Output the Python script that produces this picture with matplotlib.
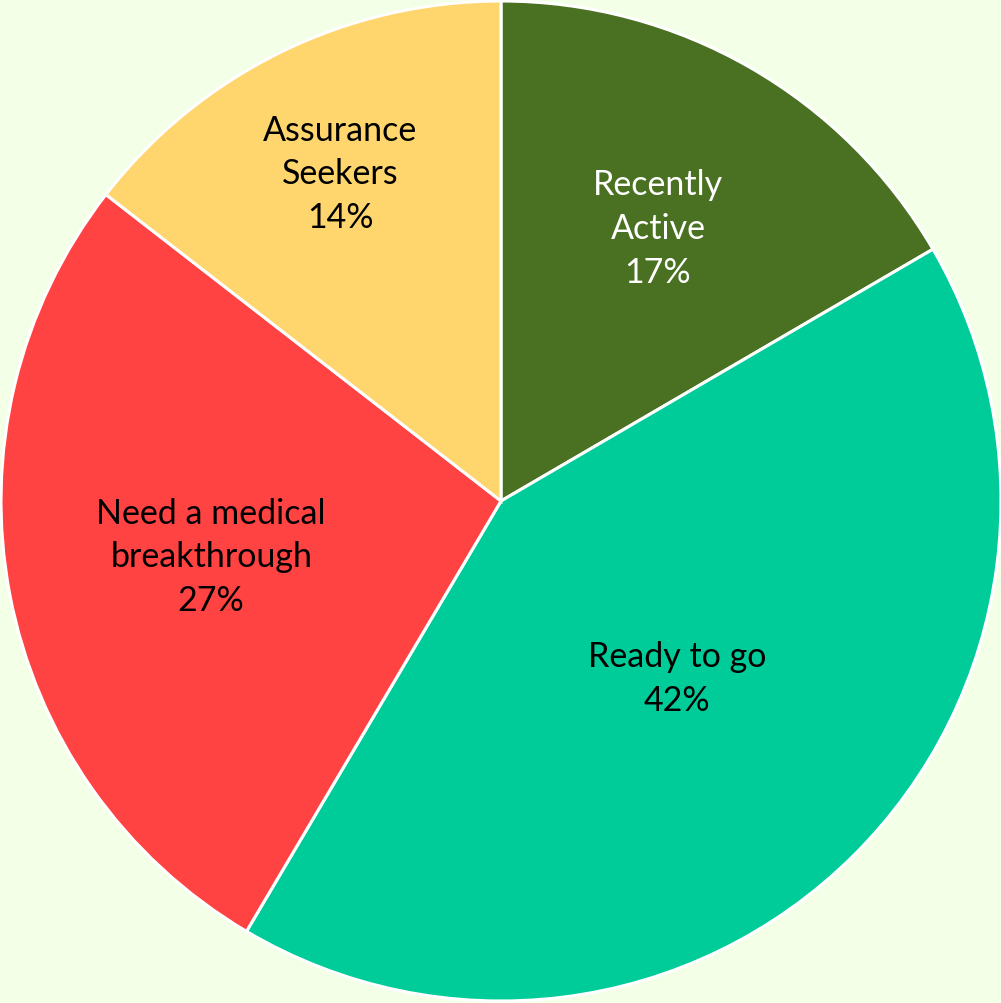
import numpy as np
import matplotlib
matplotlib.use('Agg')
import matplotlib.pyplot as plt

plt.rcParams['font.family'] = ['Lato', 'DejaVu Sans']

# data
labels = ['Recently\nActive', 'Ready to go', 'Need a medical\nbreakthrough', 'Assurance\nSeekers']
values = [16.6, 41.9, 27.0, 14.5]
pct_text = ['17%', '42%', '27%', '14%']

colors = ['#4A7021', '#00CC99', '#FF4343', '#FFD56E']
text_colors = ['white', 'black', 'black', 'black']
label_dist = [0.63, 0.50, 0.59, 0.73]

bg = '#F3FFE6'
fig = plt.figure(figsize=(10.01, 10.04), dpi=100, facecolor=bg)
ax = fig.add_axes([0, 0, 1, 1])
ax.set_facecolor(bg)

wedges, _ = ax.pie(values, colors=colors, startangle=90, counterclock=False,
                   radius=1.0, wedgeprops=dict(edgecolor='white', linewidth=2.2))

for w, lab, pct, tc, d in zip(wedges, labels, pct_text, text_colors, label_dist):
    ang = np.deg2rad((w.theta1 + w.theta2) / 2)
    ax.text(d * np.cos(ang), d * np.sin(ang), lab + '\n' + pct,
            ha='center', va='center', color=tc, fontsize=24.5, linespacing=1.45)

ax.set_xlim(-501 / 500, 500 / 500)
ax.set_ylim(-502 / 500, 502 / 500)
ax.set_aspect('equal', adjustable='box')
ax.axis('off')

fig.savefig('out.png', dpi=100, facecolor=bg)
